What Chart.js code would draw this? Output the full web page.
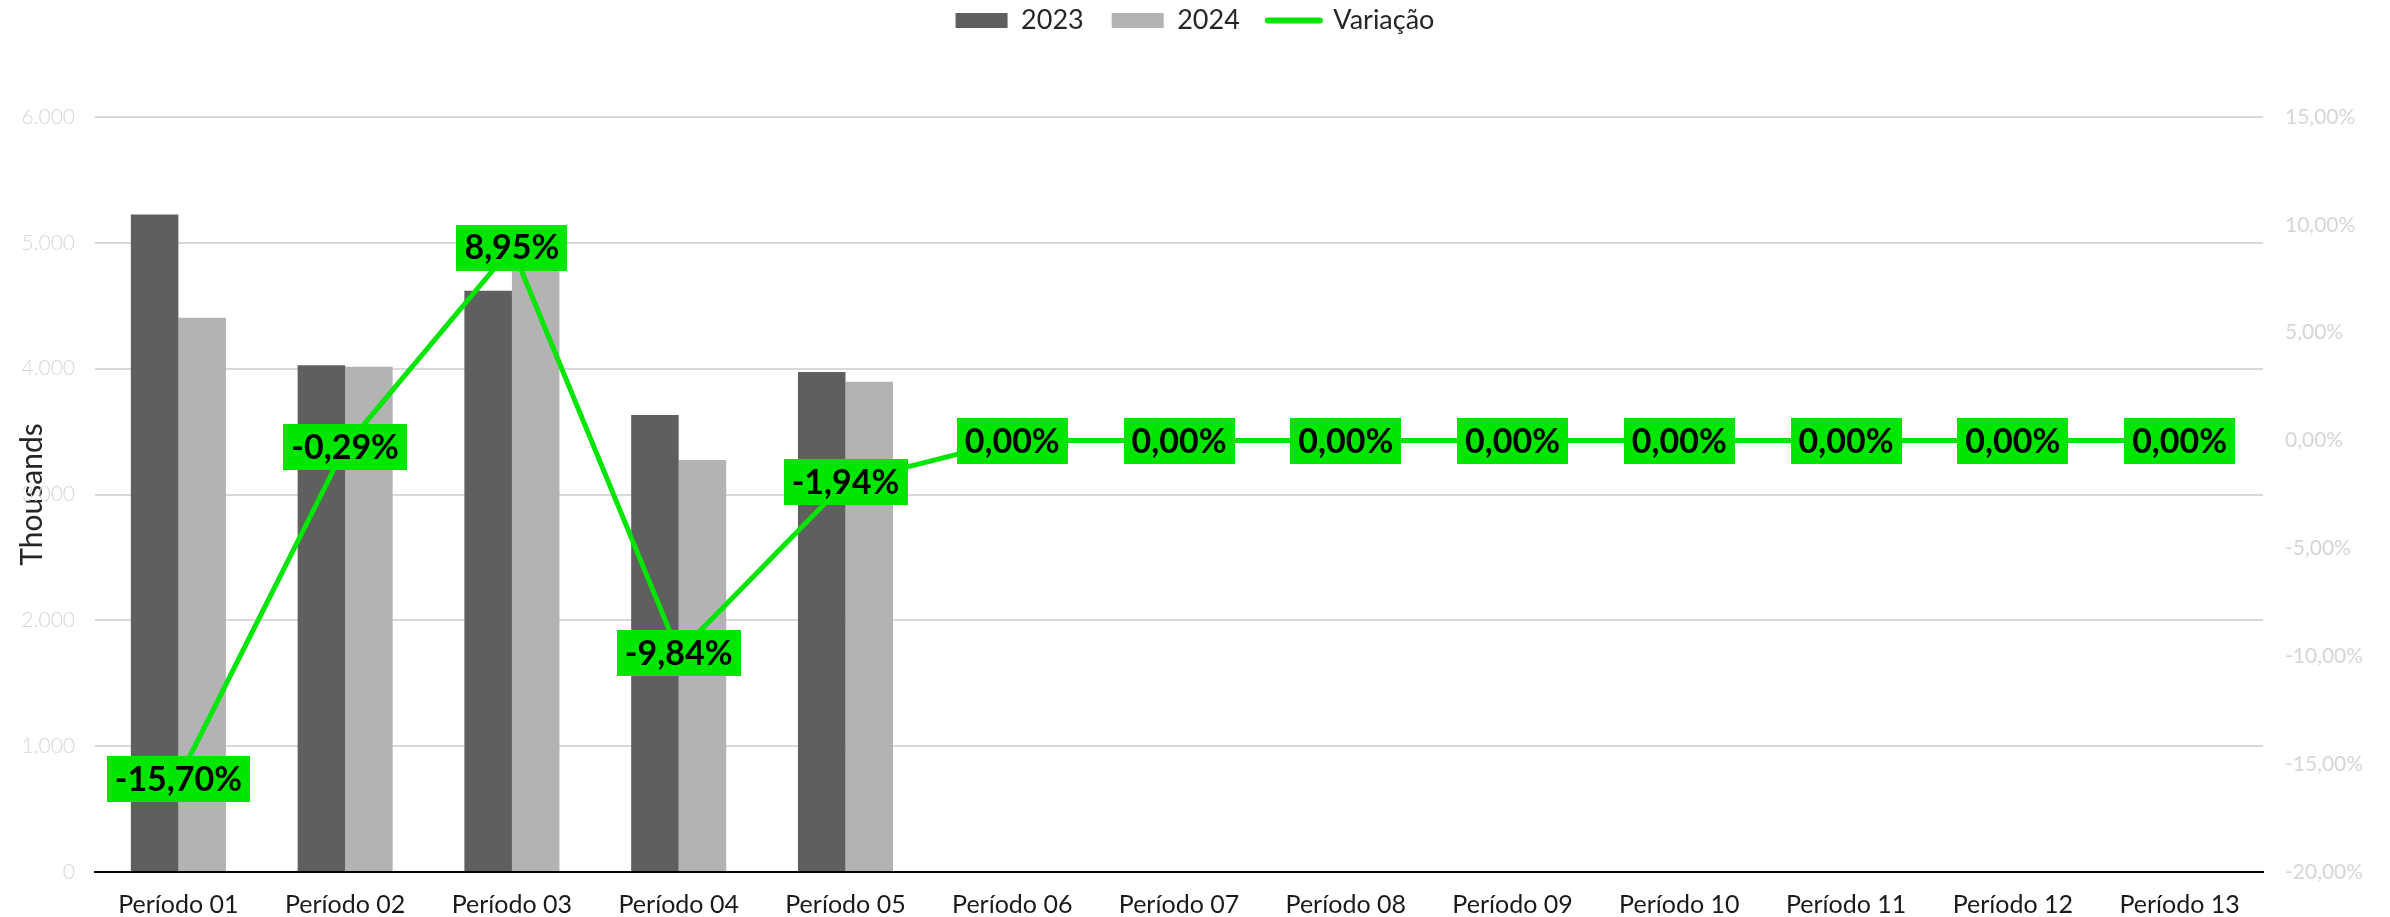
<!DOCTYPE html>
<html><head><meta charset="utf-8">
<script src="https://cdn.jsdelivr.net/npm/chart.js@4.4.1/dist/chart.umd.min.js"></script>
<style>html,body{margin:0;padding:0;background:#fff}#wrap{width:2390px;height:917px;position:relative}</style>
</head><body><div id="wrap"><canvas id="c"></canvas></div>
<script>
const categories = ['Período 01','Período 02','Período 03','Período 04','Período 05','Período 06','Período 07','Período 08','Período 09','Período 10','Período 11','Período 12','Período 13'];
const seriesNames = ['2023','2024','Variação'];
const values2023 = [5225, 4027, 4620, 3632, 3974];
const values2024 = [4405, 4015, 5033, 3275, 3897];
const variacao = [-15.70, -0.29, 8.95, -9.84, -1.94, 0, 0, 0, 0, 0, 0, 0, 0];
const leftAxisTicks = [0, 1000, 2000, 3000, 4000, 5000, 6000];
const rightAxisTicks = [-20, -15, -10, -5, 0, 5, 10, 15];
const leftAxisTitle = 'Thousands';

const GREEN = '#00e600';
const DARK = '#5f5f5f';
const LIGHT = '#b3b3b3';
const TICK_GRAY = '#d6d6d6';

const fmtPct = v => v.toFixed(2).replace('.', ',') + '%';
const fmtThou = v => String(v).replace(/\B(?=(\d{3})+(?!\d))/g, '.');

const labelPlugin = {
  id: 'varLabels',
  afterDatasetsDraw(chart) {
    const meta = chart.getDatasetMeta(2);
    const ctx = chart.ctx;
    ctx.save();
    ctx.font = 'bold 34px Lato';
    ctx.textAlign = 'center';
    ctx.textBaseline = 'middle';
    meta.data.forEach((pt, i) => {
      const txt = fmtPct(variacao[i]);
      const w = ctx.measureText(txt).width + 16;
      const h = 46;
      ctx.fillStyle = GREEN;
      ctx.fillRect(Math.round(pt.x - w / 2), Math.round(pt.y - h / 2), Math.round(w), h);
      ctx.fillStyle = '#000';
      ctx.fillText(txt, pt.x, pt.y + 1);
    });
    ctx.restore();
  }
};

const legendTweak = {
  id: 'legendTweak',
  beforeInit(chart) {
    const lg = chart.legend;
    const origFit = lg.fit;
    lg.fit = function () { origFit.call(this); this.height = 117; };
    const origDraw = lg.draw;
    lg.draw = function () {
      const ctx = this.ctx;
      ctx.save();
      ctx.translate(0, -21);
      origDraw.call(this);
      ctx.restore();
    };
  }
};

new Chart(document.getElementById('c'), {
  type: 'bar',
  data: {
    labels: categories,
    datasets: [
      { label: seriesNames[0], data: values2023, backgroundColor: DARK, order: 1, yAxisID: 'y',
        categoryPercentage: 0.57, barPercentage: 1.0 },
      { label: seriesNames[1], data: values2024, backgroundColor: LIGHT, order: 1, yAxisID: 'y',
        categoryPercentage: 0.57, barPercentage: 1.0 },
      { type: 'line', label: seriesNames[2], data: variacao, borderColor: GREEN, backgroundColor: GREEN,
        borderWidth: 5, pointRadius: 0, tension: 0, order: 0, yAxisID: 'y1' }
    ]
  },
  options: {
    responsive: true,
    maintainAspectRatio: false,
    animation: false,
    layout: { padding: 0 },
    plugins: {
      tooltip: { enabled: false },
      legend: {
        position: 'top',
        labels: {
          font: { family: 'Lato', size: 27 },
          color: '#262626',
          usePointStyle: true,
          pointStyleWidth: 52,
          boxHeight: 15,
          padding: 28,
          sort: (a, b) => a.datasetIndex - b.datasetIndex,
          generateLabels(chart) {
            const items = Chart.defaults.plugins.legend.labels.generateLabels(chart);
            items.forEach(it => {
              if (it.datasetIndex === 2) {
                it.pointStyle = 'line'; it.strokeStyle = GREEN; it.lineWidth = 6; it.lineCap = 'round';
              } else {
                it.pointStyle = 'rect'; it.lineWidth = 0;
              }
            });
            return items;
          }
        }
      }
    },
    scales: {
      x: {
        grid: { display: false, drawTicks: false },
        border: { display: true, color: '#000', width: 2 },
        ticks: { color: '#1a1a1a', font: { family: 'Lato', size: 25 }, padding: 18, maxRotation: 0, autoSkip: false },
        afterFit(s) { s.height = 45; }
      },
      y: {
        position: 'left',
        min: leftAxisTicks[0], max: leftAxisTicks[leftAxisTicks.length - 1],
        afterBuildTicks(s) { s.ticks = leftAxisTicks.map(v => ({ value: v })); },
        grid: { color: '#d9d9d9', lineWidth: 2, drawTicks: false },
        border: { display: false },
        ticks: { color: TICK_GRAY, font: { family: 'Lato', size: 21, weight: '300' }, padding: 20, callback: v => fmtThou(v) },
        title: { display: true, text: leftAxisTitle, color: '#262626', font: { family: 'Lato', size: 30 }, padding: { top: 14, bottom: 0 } },
        afterFit(s) { s.width = 95; }
      },
      y1: {
        position: 'right',
        min: rightAxisTicks[0], max: rightAxisTicks[rightAxisTicks.length - 1],
        afterBuildTicks(s) { s.ticks = rightAxisTicks.map(v => ({ value: v })); },
        grid: { display: false, drawTicks: false },
        border: { display: false },
        ticks: { color: TICK_GRAY, font: { family: 'Lato', size: 21 }, padding: 22, callback: v => fmtPct(v) },
        afterFit(s) { s.width = 127; }
      }
    }
  },
  plugins: [labelPlugin, legendTweak]
});
</script>
</body></html>
